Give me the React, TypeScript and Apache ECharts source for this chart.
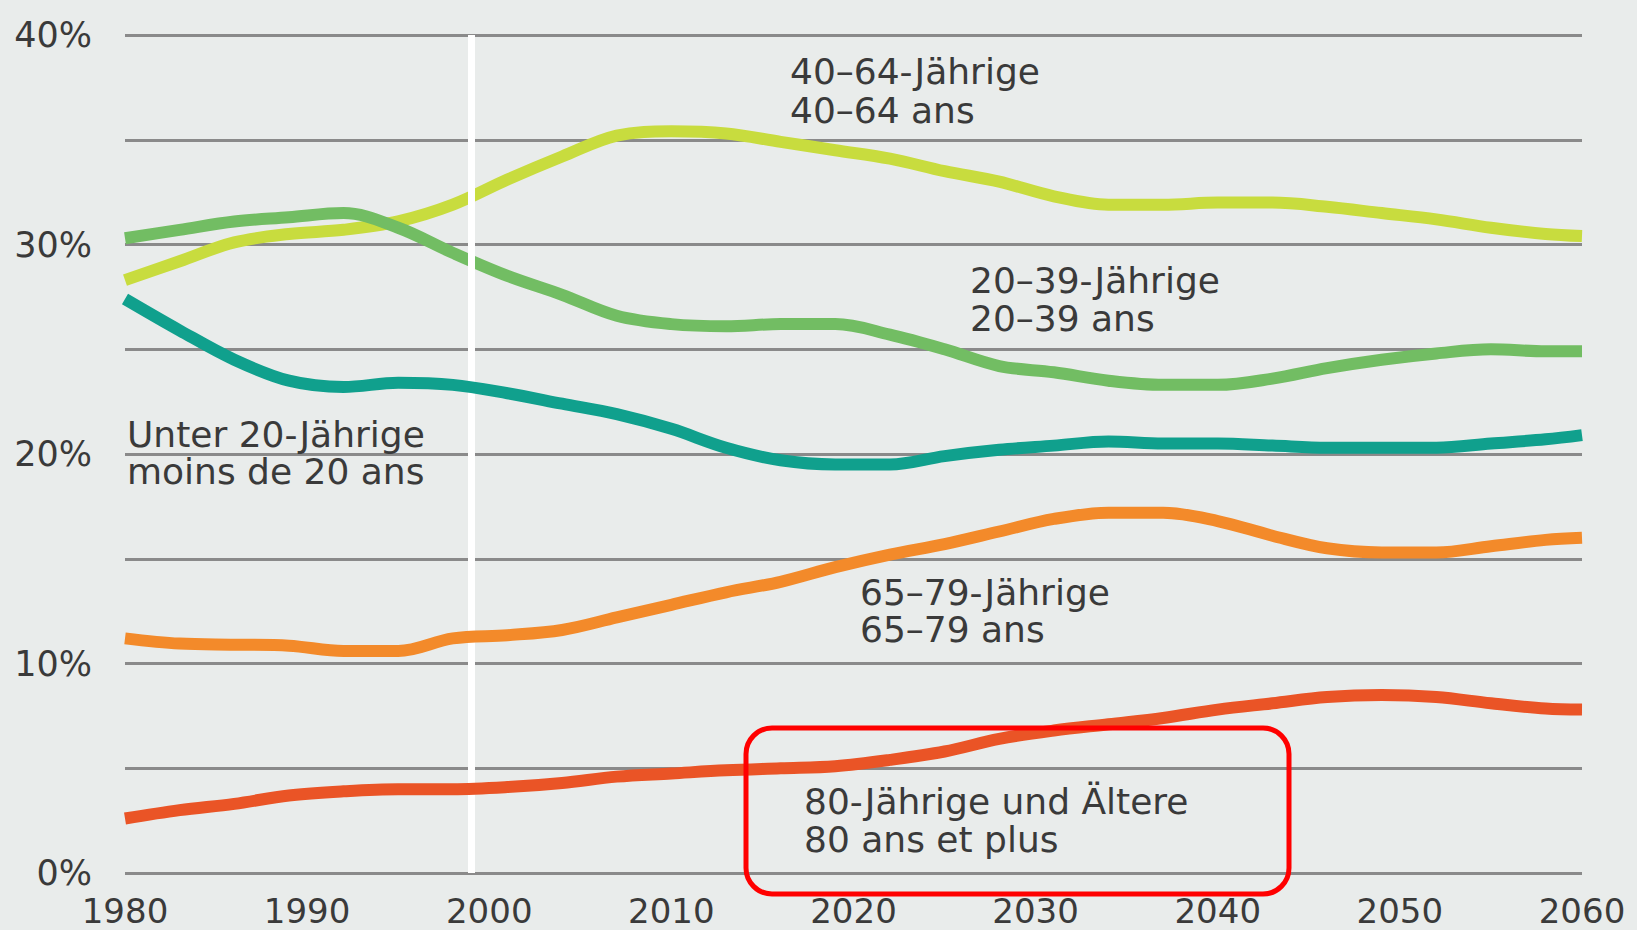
import React, { useEffect, useRef } from "react";
import * as echarts from "echarts";

const years = [1980, 1983, 1986, 1989, 1992, 1995, 1998, 2001, 2004, 2007, 2010, 2013, 2016, 2019, 2022, 2025, 2028, 2031, 2034, 2037, 2040, 2043, 2046, 2049, 2052, 2055, 2058, 2060];

const age40to64 = [28.3, 29.2, 30.1, 30.5, 30.7, 31.1, 31.9, 33.1, 34.2, 35.2, 35.4, 35.3, 34.9, 34.5, 34.1, 33.5, 33.0, 32.3, 31.9, 31.9, 32.0, 32.0, 31.8, 31.5, 31.2, 30.8, 30.5, 30.4];
const age20to39 = [30.3, 30.7, 31.1, 31.3, 31.5, 30.8, 29.6, 28.5, 27.6, 26.6, 26.2, 26.1, 26.2, 26.2, 25.7, 25.0, 24.2, 23.9, 23.5, 23.3, 23.3, 23.6, 24.1, 24.5, 24.8, 25.0, 24.9, 24.9];
const ageUnder20 = [27.4, 25.9, 24.5, 23.5, 23.2, 23.4, 23.3, 22.9, 22.4, 21.9, 21.2, 20.3, 19.7, 19.5, 19.5, 19.9, 20.2, 20.4, 20.6, 20.5, 20.5, 20.4, 20.3, 20.3, 20.3, 20.5, 20.7, 20.9];
const age65to79 = [11.2, 10.95, 10.9, 10.85, 10.6, 10.6, 11.2, 11.35, 11.6, 12.2, 12.8, 13.4, 13.9, 14.6, 15.2, 15.7, 16.3, 16.9, 17.2, 17.2, 16.8, 16.1, 15.5, 15.3, 15.3, 15.6, 15.9, 16.0];
const age80plus = [2.6, 3.0, 3.3, 3.7, 3.9, 4.0, 4.0, 4.1, 4.3, 4.6, 4.75, 4.9, 5.0, 5.1, 5.4, 5.8, 6.4, 6.8, 7.1, 7.4, 7.8, 8.1, 8.4, 8.5, 8.4, 8.1, 7.85, 7.8];

const seriesNames = ["40–64-Jährige", "20–39-Jährige", "Unter 20-Jährige", "65–79-Jährige", "80-Jährige und Ältere"];
const seriesValues = [age40to64, age20to39, ageUnder20, age65to79, age80plus];
const seriesColors = ["#c8dc3e", "#72bd63", "#10a08d", "#f38a2a", "#ea5426"];

const baseYear = 1999;

const labelLines = [
  { text: "40–64-Jährige", x: 790, y: 71 },
  { text: "40–64 ans", x: 790, y: 110 },
  { text: "20–39-Jährige", x: 970, y: 280 },
  { text: "20–39 ans", x: 970, y: 318 },
  { text: "Unter 20-Jährige", x: 127, y: 434 },
  { text: "moins de 20 ans", x: 127, y: 471 },
  { text: "65–79-Jährige", x: 860, y: 592 },
  { text: "65–79 ans", x: 860, y: 629 },
  { text: "80-Jährige und Ältere", x: 804, y: 801 },
  { text: "80 ans et plus", x: 804, y: 839 },
];

const FONT = "'DejaVu Sans', 'Liberation Sans', sans-serif";
const TEXT_COLOR = "#3a3a3a";

export default function App() {
  const ref = useRef<HTMLDivElement>(null);

  useEffect(() => {
    if (!ref.current) return;
    const chart = echarts.init(ref.current, undefined, { renderer: "svg" });

    const lineSeries = seriesNames.map((name, i) => ({
      name,
      type: "line",
      data: years.map((y, j) => [y, seriesValues[i][j]]),
      smooth: 0.35,
      showSymbol: false,
      symbol: "none",
      lineStyle: { color: seriesColors[i], width: 12, cap: "butt" },
      itemStyle: { color: seriesColors[i] },
      z: 3 + i,
    }));

    const option: any = {
      animation: false,
      backgroundColor: "#e9eceb",
      grid: { left: 125, right: 55, top: 35, bottom: 57, containLabel: false },
      xAxis: {
        type: "value",
        min: 1980,
        max: 2060,
        interval: 10,
        axisLine: { show: false },
        axisTick: { show: false },
        splitLine: { show: false },
        axisLabel: {
          margin: 21,
          fontSize: 34,
          lineHeight: 34,
          fontFamily: FONT,
          color: TEXT_COLOR,
          formatter: (v: number) => String(v),
        },
      },
      yAxis: {
        type: "value",
        min: 0,
        max: 40,
        interval: 5,
        axisLine: { show: false },
        axisTick: { show: false },
        splitLine: { show: true, lineStyle: { color: "#8a8a8a", width: 3 } },
        axisLabel: {
          margin: 33,
          fontSize: 35,
          fontFamily: FONT,
          color: TEXT_COLOR,
          padding: [0, 0, 7, 0],
          formatter: (v: number) => (v % 10 === 0 ? v + "%" : ""),
        },
      },
      series: [
        ...lineSeries,
        {
          name: "base",
          type: "line",
          data: [],
          z: 20,
          markLine: {
            silent: true,
            symbol: ["none", "none"],
            label: { show: false },
            lineStyle: { color: "#ffffff", width: 7, type: "solid" },
            data: [[{ coord: [baseYear, 0] }, { coord: [baseYear, 40] }]],
          },
        },
      ],
      graphic: [
        ...labelLines.map((l) => ({
          type: "text",
          x: l.x,
          y: l.y,
          z: 50,
          silent: true,
          style: {
            text: l.text,
            fontSize: 36,
            fontFamily: FONT,
            fill: TEXT_COLOR,
            align: "left",
            verticalAlign: "middle",
          },
        })),
        {
          type: "rect",
          z: 60,
          silent: true,
          shape: { x: 746, y: 728, width: 543, height: 166, r: 26 },
          style: { fill: "none", stroke: "#ff0000", lineWidth: 5 },
        },
      ],
    };

    chart.setOption(option);
    return () => chart.dispose();
  }, []);

  return (
    <div
      ref={ref}
      style={{ position: "fixed", left: 0, top: 0, width: 1637, height: 930 }}
    />
  );
}
